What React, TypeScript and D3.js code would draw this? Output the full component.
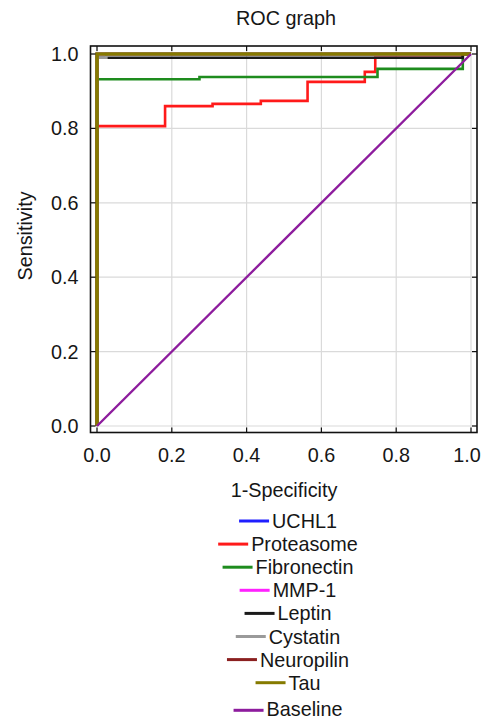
import React, { useEffect, useRef } from "react";
import * as d3 from "d3";

// ROC curves, points as [1-specificity, sensitivity]
const seriesNames = ["UCHL1", "Proteasome", "Fibronectin", "MMP-1", "Leptin", "Cystatin", "Neuropilin", "Tau"];
const seriesColors = ["#1f1fff", "#ff1a1a", "#1e8c1e", "#ff22ff", "#1a1a1a", "#9a9a9a", "#8b2020", "#857a00"];

const uchl1 = [[0, 0], [0, 1], [1, 1]];
const proteasome = [
  [0, 0], [0, 0.806], [0.182, 0.806], [0.182, 0.86], [0.309, 0.86], [0.309, 0.866],
  [0.438, 0.866], [0.438, 0.874], [0.563, 0.874], [0.563, 0.925], [0.716, 0.925],
  [0.716, 0.952], [0.744, 0.952], [0.744, 0.99], [0.978, 0.99], [0.978, 1], [1, 1],
];
const fibronectin = [
  [0, 0], [0, 0.932], [0.274, 0.932], [0.274, 0.938], [0.75, 0.938], [0.75, 0.96],
  [0.978, 0.96], [0.978, 1], [1, 1],
];
const mmp1 = [[0, 0], [0, 1], [1, 1]];
const leptin = [[0, 0], [0, 0.99], [0.978, 0.99], [0.978, 1], [1, 1]];
const cystatin = [[0, 0], [0, 0.99], [0.025, 0.99], [0.025, 1], [1, 1]];
const neuropilin = [[0, 0], [0, 1], [1, 1]];
const tau = [[0, 0], [0, 1], [1, 1]];
const baseline = [[0, 0], [1, 1]];

const ticks = [0, 0.2, 0.4, 0.6, 0.8, 1.0];

export default function App() {
  const ref = useRef<SVGSVGElement>(null);

  useEffect(() => {
    const svg = d3.select(ref.current);
    svg.selectAll("*").remove();

    const font = "'Liberation Sans', Arial, sans-serif";
    const fs = 19.8;
    const textColor = "#161616";

    // frame box and scales
    const left = 90.5, right = 477, top = 46, bottom = 432.5;
    const x = d3.scaleLinear().domain([0, 1]).range([97, 471]);
    const y = d3.scaleLinear().domain([0, 1]).range([426, 54]);

    // grid
    const grid = svg.append("g").attr("stroke", "#dadada").attr("stroke-width", 1.2);
    ticks.forEach(t => {
      grid.append("line").attr("x1", x(t)).attr("x2", x(t)).attr("y1", top).attr("y2", bottom);
      grid.append("line").attr("x1", left).attr("x2", right).attr("y1", y(t)).attr("y2", y(t));
    });

    // curves
    const all = [uchl1, proteasome, fibronectin, mmp1, leptin, cystatin, neuropilin, tau];
    const line = d3.line<number[]>().x(d => x(d[0])).y(d => y(d[1]));
    all.forEach((pts, i) => {
      svg.append("path")
        .attr("d", line(pts))
        .attr("fill", "none")
        .attr("stroke", seriesColors[i])
        .attr("stroke-width", i === 7 ? 3.6 : 2.6)
        .attr("stroke-linejoin", "miter");
    });
    svg.append("path")
      .attr("d", line(baseline))
      .attr("fill", "none")
      .attr("stroke", "#8d1c9d")
      .attr("stroke-width", 2.4);

    // frame + inward ticks
    svg.append("rect")
      .attr("x", left).attr("y", top)
      .attr("width", right - left).attr("height", bottom - top)
      .attr("fill", "none").attr("stroke", "#111").attr("stroke-width", 1.6);
    const tk = svg.append("g").attr("stroke", "#111").attr("stroke-width", 1.2);
    ticks.forEach(t => {
      tk.append("line").attr("x1", x(t)).attr("x2", x(t)).attr("y1", bottom).attr("y2", bottom - 5);
      tk.append("line").attr("x1", x(t)).attr("x2", x(t)).attr("y1", top).attr("y2", top + 5);
      tk.append("line").attr("x1", left).attr("x2", left + 5).attr("y1", y(t)).attr("y2", y(t));
      tk.append("line").attr("x1", right).attr("x2", right - 5).attr("y1", y(t)).attr("y2", y(t));
    });

    // tick labels (last x label nudged in so it stays inside the page)
    ticks.forEach(t => {
      svg.append("text")
        .attr("x", Math.min(x(t), 467)).attr("y", 462)
        .attr("text-anchor", "middle")
        .attr("font-family", font).attr("font-size", fs).attr("fill", textColor)
        .text(d3.format(".1f")(t));
      svg.append("text")
        .attr("x", 78.5).attr("y", y(t) + 7)
        .attr("text-anchor", "end")
        .attr("font-family", font).attr("font-size", fs).attr("fill", textColor)
        .text(d3.format(".1f")(t));
    });

    // titles
    svg.append("text")
      .attr("x", 286).attr("y", 25)
      .attr("text-anchor", "middle")
      .attr("font-family", font).attr("font-size", fs).attr("fill", textColor)
      .text("ROC graph");
    svg.append("text")
      .attr("x", 284).attr("y", 497)
      .attr("text-anchor", "middle")
      .attr("font-family", font).attr("font-size", fs).attr("fill", textColor)
      .text("1-Specificity");
    svg.append("text")
      .attr("transform", "translate(32,236) rotate(-90)")
      .attr("text-anchor", "middle")
      .attr("font-family", font).attr("font-size", fs).attr("fill", textColor)
      .text("Sensitivity");

    // legend, each item (sample + label) centred
    const legendNames = [...seriesNames, "Baseline"];
    const legendColors = [...seriesColors, "#8d1c9d"];
    legendNames.forEach((name, i) => {
      const ly = 521 + i * 23.1 + (i === 8 ? 4.5 : 0);
      const g = svg.append("g");
      const label = g.append("text")
        .attr("y", i === 8 ? 715.5 : ly + 7)
        .attr("font-family", font).attr("font-size", fs).attr("fill", textColor)
        .text(name);
      const w = (label.node() as SVGTextElement).getComputedTextLength();
      const total = 30 + 3 + w;
      const x0 = 288 - total / 2;
      g.append("line")
        .attr("x1", x0).attr("x2", x0 + 30)
        .attr("y1", ly).attr("y2", ly)
        .attr("stroke", legendColors[i]).attr("stroke-width", 3);
      label.attr("x", x0 + 33);
    });
  }, []);

  return (
    <svg ref={ref} width={483} height={720}
      style={{ position: "absolute", left: 0, top: 0, background: "#fff" }} />
  );
}
